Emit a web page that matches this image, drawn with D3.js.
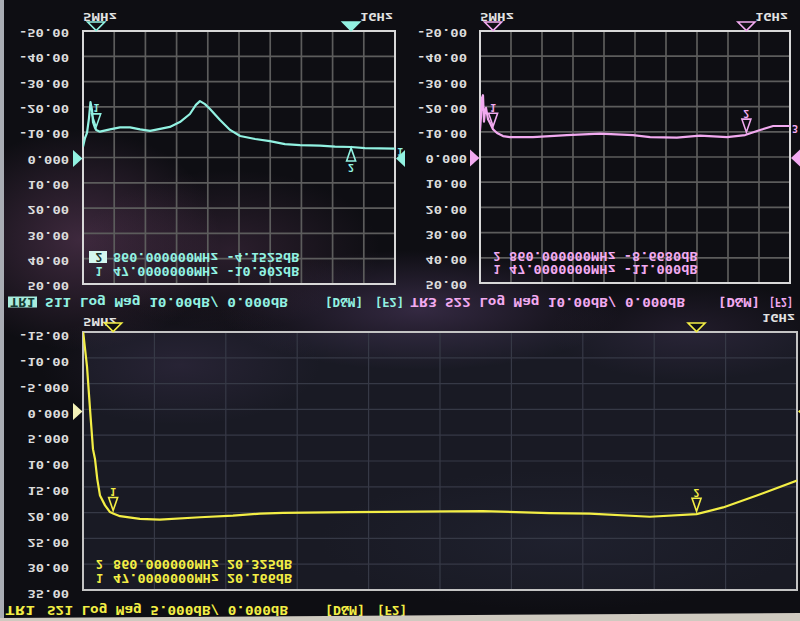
<!DOCTYPE html>
<html><head><meta charset="utf-8">
<script src="https://cdn.jsdelivr.net/npm/d3@7"></script>
<style>html,body{margin:0;padding:0;background:#0e0e12;overflow:hidden}</style>
</head><body>
<svg id="chart" width="800" height="621"></svg>
<script>
// ---------- DATA ----------
const startLabel = "5MHz", stopLabel = "1GHz";
const freqRange = [5, 1000]; // MHz

const s11Freq = [5, 11.4, 17.8, 24.1, 28.9, 33.7, 36.9, 43.3, 47, 59, 91, 123, 155, 187, 219, 251, 282, 314, 346, 365, 378, 394, 410, 442, 474, 506, 554, 601, 649, 697, 761, 809, 860, 904, 1000];
const s11Db   = [-4.2, -7.7, -9.7, -15.6, -21.9, -18.8, -14.0, -11.7, -10.9, -10.2, -11.1, -11.9, -11.9, -11.1, -10.5, -11.3, -12.1, -14.0, -17.2, -20.8, -22.3, -21.1, -19.2, -14.8, -10.9, -8.5, -7.3, -6.5, -5.3, -4.9, -4.7, -4.3, -4.15, -3.7, -3.5];

const s22Freq = [5, 8.2, 11.4, 14.6, 17.8, 21, 24.3, 30.7, 37.1, 46.7, 59.6, 78.8, 101, 175, 284, 390, 496, 551, 637, 711, 798, 856, 904, 946, 1000];
const s22Db   = [-10.5, -16, -23.5, -24.5, -14, -18, -19.5, -15, -13.5, -11.0, -9.5, -8.3, -7.9, -7.9, -8.7, -9.3, -8.7, -7.9, -7.7, -8.5, -7.9, -8.7, -10.7, -12.3, -12.3];

const s21Freq = [5, 10.6, 14.8, 18.9, 21.7, 24.9, 28.7, 35.7, 42.6, 47, 56.6, 84.4, 112, 168, 214, 252, 284, 377, 470, 562, 655, 711, 795, 860, 897, 944, 1000];
const s21Db   = [-15.3, -8.3, 0.0, 7.7, 9.6, 13.5, 16.7, 18.6, 19.9, 20.17, 20.7, 21.2, 21.35, 20.9, 20.6, 20.2, 20.05, 19.9, 19.8, 19.7, 20.1, 20.2, 20.8, 20.3, 19.0, 16.7, 13.8];

const topTickValues = [-50, -40, -30, -20, -10, 0, 10, 20, 30, 40, 50];
const topTickLabels = ["-50.00", "-40.00", "-30.00", "-20.00", "-10.00", "0.000", "10.00", "20.00", "30.00", "40.00", "50.00"];
const bottomTickValues = [-15, -10, -5, 0, 5, 10, 15, 20, 25, 30, 35];
const bottomTickLabels = ["-15.00", "-10.00", "-5.000", "0.000", "5.000", "10.00", "15.00", "20.00", "25.00", "30.00", "35.00"];

const markerFreqs = [47, 860];
const markerNames = ["1", "2"];
const s11MarkerDb = [-10.902, -4.1525];
const s22MarkerDb = [-11.000, -8.6680];
const s21MarkerDb = [20.166, 20.325];
const s11Readouts = ["47.0000000MHz -10.902dB", "860.000000MHz -4.1525dB"];
const s22Readouts = ["47.0000000MHz -11.000dB", "860.000000MHz -8.6680dB"];
const s21Readouts = ["47.0000000MHz 20.166dB", "860.000000MHz 20.325dB"];

const s11Title = ["TR1", "S11 Log Mag 10.00dB/ 0.000dB", "[D&M]", "[F2]"];
const s22Title = ["TR3", "S22 Log Mag 10.00dB/ 0.000dB", "[D&M]", "[F2]"];
const s21Title = ["TR1", "S21 Log Mag 5.000dB/ 0.000dB", "[D&M]", "[F2]"];

// ---------- RENDER ----------
const FONT = "'DejaVu Sans Mono', monospace";
const svg = d3.select('#chart');
const defs = svg.append('defs');

function radial(id, color) {
  const g = defs.append('radialGradient').attr('id', id);
  g.append('stop').attr('offset', '0%').attr('stop-color', color).attr('stop-opacity', 1);
  g.append('stop').attr('offset', '100%').attr('stop-color', color).attr('stop-opacity', 0);
}
radial('gPink', '#6e4468');
radial('gPurple', '#5a4470');
radial('gBlue', '#2a2d40');

svg.append('rect').attr('width', 800).attr('height', 621).attr('fill', '#0e0e13');
const bg = svg.append('g');
bg.append('rect').attr('x', 83).attr('y', 332).attr('width', 714).attr('height', 258).attr('fill', '#191a24');
bg.append('ellipse').attr('cx', 80).attr('cy', 240).attr('rx', 140).attr('ry', 110).attr('fill', 'url(#gPink)').attr('opacity', 0.5);
bg.append('ellipse').attr('cx', 230).attr('cy', 250).attr('rx', 150).attr('ry', 80).attr('fill', 'url(#gPink)').attr('opacity', 0.3);
bg.append('ellipse').attr('cx', 420).attr('cy', 310).attr('rx', 200).attr('ry', 60).attr('fill', 'url(#gPurple)').attr('opacity', 0.5);
bg.append('ellipse').attr('cx', 180).attr('cy', 365).attr('rx', 140).attr('ry', 60).attr('fill', 'url(#gPurple)').attr('opacity', 0.22);
bg.append('ellipse').attr('cx', 690).attr('cy', 330).attr('rx', 140).attr('ry', 50).attr('fill', 'url(#gPurple)').attr('opacity', 0.25);
bg.append('ellipse').attr('cx', 560).attr('cy', 540).attr('rx', 240).attr('ry', 70).attr('fill', 'url(#gBlue)').attr('opacity', 0.35);

function ftext(parent, str, x, width, yc, size, color, anchor) {
  const cap = size * 0.73;
  const t = parent.append('text')
    .attr('x', x).attr('y', cap / 2)
    .attr('transform', `translate(0,${yc}) scale(1,-1)`)
    .attr('font-family', FONT).attr('font-size', size).attr('font-weight', 'bold')
    .attr('fill', color).attr('xml:space', 'preserve').style('white-space', 'pre')
    .text(str);
  if (anchor) t.attr('text-anchor', anchor);
  if (width) t.attr('textLength', width).attr('lengthAdjust', 'spacingAndGlyphs');
  return t;
}

const panels = [
  { id: 's11', freq: s11Freq, db: s11Db, x0: 83, x1: 395, y0: 31, y1: 284, domain: [-50, 50],
    ticks: topTickValues, tickLabels: topTickLabels, labelRight: 69, labelOff: 2,
    color: '#92f2e2', grid: '#5c5c5c', gridW: 1.7, border: '#d8d8d8',
    mDb: s11MarkerDb, readouts: s11Readouts, active: 1, dirs: ['down', 'up'],
    rows: [271, 257], digitX: 99, textX: 113, pitch: 8.1,
    head: { y: 17.5, ys: 17.5 }, title: s11Title, titleY: 302,
    titlePos: [[8, 37], [45, 288], [325, 363], [375, 404]], titleBox: true, endLabel: '1' },
  { id: 's22', freq: s22Freq, db: s22Db, x0: 480, x1: 790, y0: 31, y1: 283, domain: [-50, 50],
    ticks: topTickValues, tickLabels: topTickLabels, labelRight: 467, labelOff: 2,
    color: '#f2aaf0', grid: '#5c5c5c', gridW: 1.7, border: '#d8d8d8',
    mDb: s22MarkerDb, readouts: s22Readouts, active: -1, dirs: ['down', 'down'],
    rows: [269, 256], digitX: 497, textX: 509, pitch: 8.2,
    head: { y: 17.5, ys: 17.5 }, title: s22Title, titleY: 302,
    titlePos: [[410, 437], [445, 685], [718, 760], [769, 793]], titleBox: false, endLabel: '3' },
  { id: 's21', freq: s21Freq, db: s21Db, x0: 83, x1: 797, y0: 332, y1: 590, domain: [-15, 35],
    ticks: bottomTickValues, tickLabels: bottomTickLabels, labelRight: 69, labelOff: 4,
    color: '#f3ee45', grid: '#363946', gridW: 1.2, border: '#c4c4c4',
    mDb: s21MarkerDb, readouts: s21Readouts, active: -1, dirs: ['down', 'down'],
    rows: [578.5, 564], digitX: 99.5, textX: 113, pitch: 8.14,
    head: { y: 322, ys: 318 }, title: s21Title, titleY: 610,
    titlePos: [[5, 35], [47, 288], [325, 365], [377, 407]], titleBox: false, endLabel: null }
];

panels.forEach(p => {
  const g = svg.append('g');
  const x = d3.scaleLinear().domain(freqRange).range([p.x0, p.x1]);
  const y = d3.scaleLinear().domain(p.domain).range([p.y0, p.y1]);
  const w = p.x1 - p.x0, h = p.y1 - p.y0;

  // grid
  const grid = g.append('g').attr('stroke', p.grid).attr('stroke-width', p.gridW);
  d3.range(1, 10).forEach(i => {
    grid.append('line').attr('x1', p.x0 + i * w / 10).attr('x2', p.x0 + i * w / 10).attr('y1', p.y0).attr('y2', p.y1);
  });
  p.ticks.forEach((t, i) => {
    if (i === 0 || i === p.ticks.length - 1) return;
    grid.append('line').attr('x1', p.x0).attr('x2', p.x1).attr('y1', y(t)).attr('y2', y(t));
  });
  g.append('rect').attr('x', p.x0).attr('y', p.y0).attr('width', w).attr('height', h)
    .attr('fill', 'none').attr('stroke', p.border).attr('stroke-width', 2);

  // y tick labels
  p.ticks.forEach((t, i) => {
    const lab = p.tickLabels[i];
    const wd = lab.length * 8.6 - 1.5;
    ftext(g, lab, p.labelRight - wd, wd, y(t) + p.labelOff, 10.5, '#dcdcdc');
  });

  // start / stop labels
  ftext(g, startLabel, p.x0, 34, p.head.y, 11, '#e2e2e2');
  ftext(g, stopLabel, p.x1 - 35, 33, p.head.ys, 11, '#e2e2e2');

  // marker position indicators on top edge
  markerFreqs.forEach((f, i) => {
    const mx = x(f);
    g.append('path').attr('d', `M${mx - 8.5},${p.y0 - 9}L${mx + 8.5},${p.y0 - 9}L${mx},${p.y0 - 0.5}Z`)
      .attr('fill', i === p.active ? p.color : '#101014').attr('stroke', p.color).attr('stroke-width', 1.6);
  });

  // reference arrows at 0 dB
  const r0 = y(0) + (p.id === 's21' ? 2 : 1);
  g.append('path').attr('d', `M${p.x0 - 10},${r0 - 8.5}L${p.x0 - 10},${r0 + 8.5}L${p.x0 - 0.5},${r0}Z`)
    .attr('fill', p.id === 's21' ? '#f4f2b8' : p.color);
  g.append('path').attr('d', `M${p.x1 + 10},${r0 - 8.5}L${p.x1 + 10},${r0 + 8.5}L${p.x1 + 1},${r0}Z`)
    .attr('fill', p.color);

  // trace
  const clipId = 'clip-' + p.id;
  defs.append('clipPath').attr('id', clipId).append('rect')
    .attr('x', p.x0).attr('y', p.y0).attr('width', w).attr('height', h);
  const pts = p.freq.map((f, i) => [f, p.db[i]]);
  const line = d3.line().x(d => x(d[0])).y(d => y(d[1]));
  g.append('path').attr('d', line(pts)).attr('clip-path', `url(#${clipId})`)
    .attr('fill', 'none').attr('stroke', p.color).attr('stroke-width', 2.2)
    .attr('stroke-linejoin', 'round');

  if (p.endLabel) {
    const lastV = p.db[p.db.length - 1];
    ftext(g, p.endLabel, p.x1 + 5, null, y(lastV) + 3, 10, p.color, 'middle');
  }

  // markers on trace
  markerFreqs.forEach((f, i) => {
    const mx = x(f), my = y(p.mDb[i]);
    let tip, base, numY;
    if (p.dirs[i] === 'down') { tip = my - 3; base = tip - 13; numY = base - 6; }
    else { tip = my + 1; base = tip + 13; numY = base + 7; }
    g.append('path').attr('d', `M${mx - 4.5},${base}L${mx + 4.5},${base}L${mx},${tip}Z`)
      .attr('fill', 'none').attr('stroke', p.color).attr('stroke-width', 1.6);
    ftext(g, markerNames[i], mx, null, numY, 10, p.color, 'middle');
  });

  // marker readouts
  p.readouts.forEach((r, i) => {
    const yc = p.rows[i];
    if (i === p.active) {
      g.append('rect').attr('x', p.digitX - 10).attr('y', yc - 6).attr('width', 18).attr('height', 12).attr('fill', '#d4f7ef');
      ftext(g, markerNames[i], p.digitX, null, yc, 11.5, '#183631', 'middle');
    } else {
      ftext(g, markerNames[i], p.digitX, null, yc, 11.5, p.color, 'middle');
    }
    ftext(g, r, p.textX, r.length * p.pitch, yc, 11.5, p.color);
  });

  // title row
  p.title.forEach((s, i) => {
    const [a, b] = p.titlePos[i];
    if (i === 0 && p.titleBox) {
      g.append('rect').attr('x', a).attr('y', p.titleY - 5.5).attr('width', b - a).attr('height', 11).attr('fill', '#a8ecdd');
      ftext(g, s, a + 2, b - a - 4, p.titleY, 11.5, '#153a33');
    } else {
      ftext(g, s, a, b - a, p.titleY, 12, p.color);
    }
  });
});

// bezel edges
svg.append('rect').attr('x', 0).attr('y', 0).attr('width', 4).attr('height', 621).attr('fill', '#a9adb4');
svg.append('path').attr('d', 'M0,618L800,613L800,621L0,621Z').attr('fill', '#cfcac0');
</script>
</body></html>
